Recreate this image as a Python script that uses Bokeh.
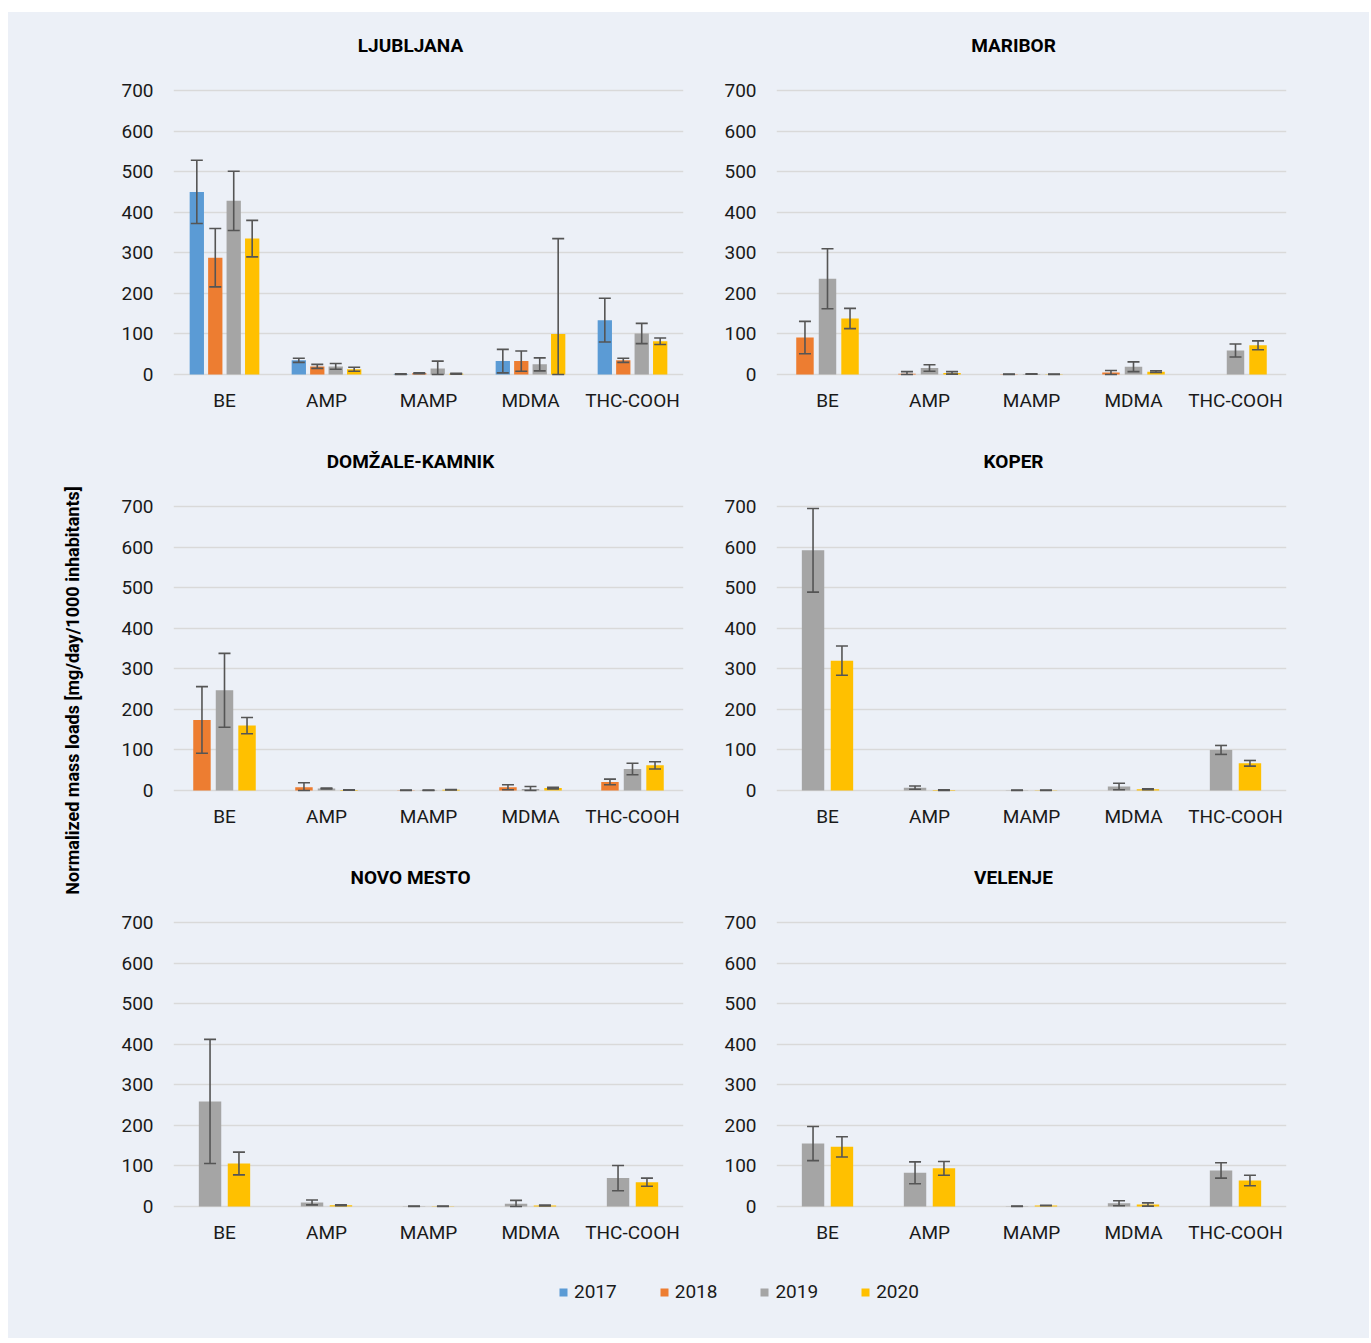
import math
from bokeh.plotting import figure
from bokeh.models import (ColumnDataSource, FactorRange, Range1d, FixedTicker, Whisker,
                          TeeHead, Label, Legend, LegendItem, Spacer)
from bokeh.transform import dodge
from bokeh.layouts import column, row
from bokeh.embed import file_html
from bokeh.resources import INLINE

# ---------------- data ----------------
CATEGORIES = ["BE", "AMP", "MAMP", "MDMA", "THC-COOH"]
YEARS = ["2017", "2018", "2019", "2020"]
Y_TICKS = [0, 100, 200, 300, 400, 500, 600, 700]
Y_LABEL = "Normalized mass loads [mg/day/1000 inhabitants]"

LJUBLJANA = {
    "2017": [450, 35, 1, 33, 134],
    "2018": [288, 20, 3, 33, 35],
    "2019": [428, 20, 15, 25, 101],
    "2020": [335, 13, 2, 100, 82],
}
LJUBLJANA_ERR = {
    "2017": [78, 5, 1, 29, 54],
    "2018": [72, 5, 1, 25, 5],
    "2019": [73, 7, 18, 16, 25],
    "2020": [45, 5, 1, 235, 8],
}
MARIBOR = {
    "2018": [91, 2, 0.5, 5, None],
    "2019": [236, 16, 1, 19, 59],
    "2020": [138, 4, 0.5, 7, 72],
}
MARIBOR_ERR = {
    "2018": [40, 5, 0.5, 5, None],
    "2019": [74, 8, 0.5, 12, 16],
    "2020": [25, 3, 0.5, 2, 11],
}
DOMZALE = {
    "2018": [174, 8, 0.5, 8, 21],
    "2019": [247, 5, 0.5, 4, 53],
    "2020": [160, 1, 2, 6, 62],
}
DOMZALE_ERR = {
    "2018": [82, 11, 0.5, 6, 7],
    "2019": [91, 1, 0.5, 6, 14],
    "2020": [20, 0.5, 0.5, 2, 9],
}
KOPER = {
    "2019": [592, 7, 0.5, 10, 100],
    "2020": [320, 1, 0.5, 3, 67],
}
KOPER_ERR = {
    "2019": [103, 4, 0.5, 8, 11],
    "2020": [36, 1, 0.5, 1, 7],
}
NOVO_MESTO = {
    "2019": [259, 10, 0.5, 7, 70],
    "2020": [106, 3, 0.5, 2.5, 60],
}
NOVO_MESTO_ERR = {
    "2019": [153, 6, 0.5, 8, 31],
    "2020": [28, 1, 0.5, 1, 10],
}
VELENJE = {
    "2019": [155, 83, 0.5, 8, 89],
    "2020": [147, 94, 2.5, 5, 64],
}
VELENJE_ERR = {
    "2019": [42, 27, 0.5, 6, 19],
    "2020": [25, 17, 0.5, 4, 13],
}

PANELS = [
    ("LJUBLJANA", LJUBLJANA, LJUBLJANA_ERR),
    ("MARIBOR", MARIBOR, MARIBOR_ERR),
    ("DOMŽALE-KAMNIK", DOMZALE, DOMZALE_ERR),
    ("KOPER", KOPER, KOPER_ERR),
    ("NOVO MESTO", NOVO_MESTO, NOVO_MESTO_ERR),
    ("VELENJE", VELENJE, VELENJE_ERR),
]

# ---------------- style ----------------
COLORS = {"2017": "#5B9BD5", "2018": "#ED7D31", "2019": "#A5A5A5", "2020": "#FFC000"}
BG = "#ECF0F7"
ERR_COLOR = "#555555"
GRID_COLOR = "#D9D9D9"
TEXT_COLOR = "#1A1A1A"
FONT = "Roboto"

ROW_H = 416
PX_PER_UNIT = 0.4057          # vertical scale of every panel
Y_START, Y_END = -17.25, 867.6  # frame extends above 700 to hold the panel title
TITLE_Y = 811                 # title position, in value units, above the plotted area


def make_panel(title, vals, errs, width, mbl, mbr):
    p = figure(width=width, height=ROW_H,
               x_range=FactorRange(factors=CATEGORIES),
               y_range=Range1d(Y_START, Y_END),
               output_backend="svg", toolbar_location=None,
               min_border_left=mbl, min_border_right=mbr,
               min_border_top=10, min_border_bottom=47,
               background_fill_color=BG, border_fill_color=BG,
               outline_line_color=None)
    years = [y for y in YEARS if y in vals]
    n = len(years)
    bw = 1.0 / (n + (n - 1) * 0.29 + 2.26)
    pitch = 1.29 * bw
    for i, yr in enumerate(years):
        cats, v, up, lo = [], [], [], []
        for c, val, e in zip(CATEGORIES, vals[yr], errs[yr]):
            if val is None:
                continue
            cats.append(c)
            v.append(val)
            up.append(val + e)
            lo.append(max(0.0, val - e))
        src = ColumnDataSource(dict(cat=cats, val=v, upper=up, lower=lo))
        off = (i - (n - 1) / 2.0) * pitch
        p.vbar(x=dodge("cat", off, range=p.x_range), top="val", bottom=0, width=bw,
               source=src, fill_color=COLORS[yr], line_color=None)
        w = Whisker(source=src, base=dodge("cat", off, range=p.x_range),
                    upper="upper", lower="lower", line_color=ERR_COLOR, line_width=1.6,
                    upper_head=TeeHead(size=12, line_color=ERR_COLOR, line_width=1.6),
                    lower_head=TeeHead(size=12, line_color=ERR_COLOR, line_width=1.6),
                    level="overlay")
        p.add_layout(w)

    p.xgrid.grid_line_color = None
    p.ygrid.grid_line_color = GRID_COLOR
    p.ygrid.grid_line_width = 1.6

    for ax in (p.xaxis, p.yaxis):
        ax.axis_line_color = None
        ax.major_tick_line_color = None
        ax.minor_tick_line_color = None
        ax.major_tick_out = 0
        ax.major_tick_in = 0
        ax.major_label_text_font = FONT
        ax.major_label_text_font_size = "19px"
        ax.major_label_text_color = TEXT_COLOR
    p.yaxis.ticker = FixedTicker(ticks=Y_TICKS)
    p.yaxis.major_label_standoff = 20
    p.xaxis.major_label_standoff = 7

    p.add_layout(Label(x=len(CATEGORIES) / 2.0, y=TITLE_Y, x_offset=-18, text=title,
                       text_align="center", text_baseline="middle",
                       text_font=FONT, text_font_size="19px", text_font_style="bold",
                       text_color="#000000"))
    return p


panels = []
for k, (t, v, e) in enumerate(PANELS):
    if k % 2 == 0:
        panels.append(make_panel(t, v, e, 605, 73, 22))
    else:
        panels.append(make_panel(t, v, e, 664, 71, 83))

# left strip with the shared y-axis title
STRIP_W, STRIP_H = 92, 3 * ROW_H
strip = figure(width=STRIP_W, height=STRIP_H, x_range=Range1d(0, STRIP_W),
               y_range=Range1d(0, STRIP_H), output_backend="svg", toolbar_location=None,
               min_border=0, background_fill_color=BG, border_fill_color=BG,
               outline_line_color=None)
strip.axis.visible = False
strip.grid.visible = False
strip.add_layout(Label(x=64, y=STRIP_H - (690 - 12), text=Y_LABEL, angle=math.pi / 2,
                       text_align="center", text_baseline="middle",
                       text_font=FONT, text_font_size="18px", text_font_style="bold",
                       text_color="#000000"))

# legend strip
LEG_W, LEG_H = STRIP_W + 605 + 664, 78
leg = figure(width=LEG_W, height=LEG_H, x_range=Range1d(0, 1), y_range=Range1d(0, 1),
             output_backend="svg", toolbar_location=None, min_border=0,
             background_fill_color=BG, border_fill_color=BG, outline_line_color=None)
leg.axis.visible = False
leg.grid.visible = False
items = []
for yr in YEARS:
    r = leg.vbar(x=[-5], top=[0], width=0.1, fill_color=COLORS[yr], line_color=None)
    items.append(LegendItem(label=yr, renderers=[r]))
legend = Legend(items=items, orientation="horizontal", location=(550, 35),
                glyph_width=10, glyph_height=10, label_standoff=6, spacing=42,
                label_text_font=FONT, label_text_font_size="19px",
                label_text_color=TEXT_COLOR, padding=0, margin=0,
                border_line_color=None, background_fill_alpha=0)
leg.add_layout(legend)

grid = column(row(panels[0], panels[1]), row(panels[2], panels[3]), row(panels[4], panels[5]))
inner = column(row(strip, grid), leg, styles={"background-color": BG})
layout = column(Spacer(width=LEG_W + 8, height=12),
                row(Spacer(width=8, height=10), inner))

open("out.html", "w").write(file_html(layout, INLINE))
